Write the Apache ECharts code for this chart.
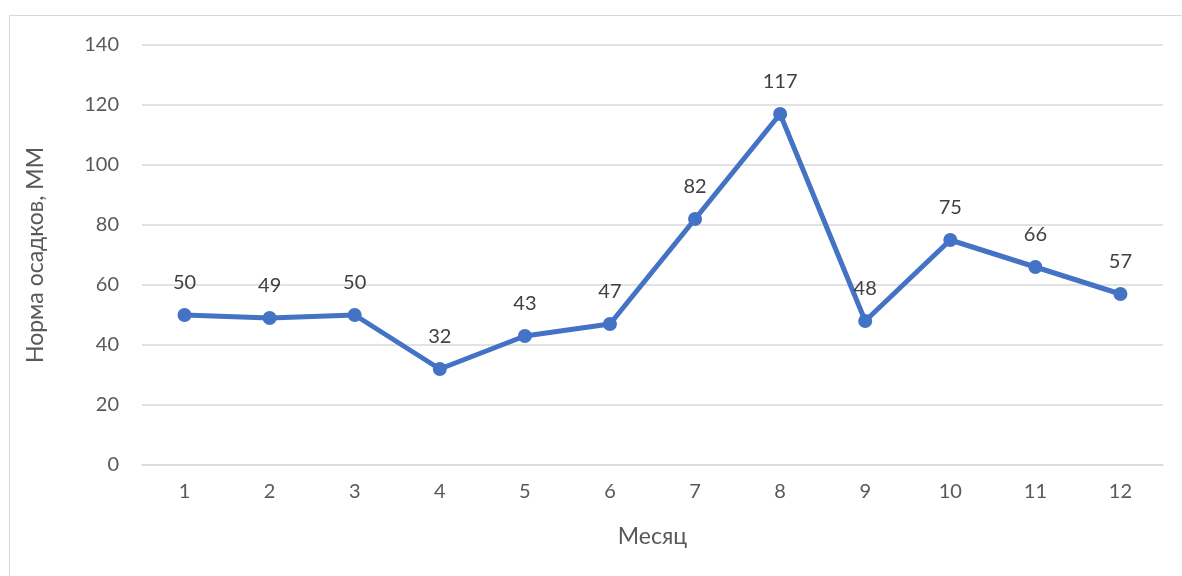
<!DOCTYPE html>
<html>
<head>
<meta charset="utf-8">
<script src="https://cdn.jsdelivr.net/npm/echarts@6/dist/echarts.min.js"></script>
<style>
  html, body { margin: 0; padding: 0; background: #fff; }
  #frame { position: absolute; left: 9px; top: 15px; width: 1200px; height: 600px;
           border: 1px solid #d9d9d9; box-sizing: border-box; }
  #chart { position: absolute; left: 0; top: 0; width: 1182px; height: 576px; }
</style>
</head>
<body>
<div id="frame"></div>
<div id="chart"></div>
<script>
// Monthly precipitation norms, mm
const months = ['1', '2', '3', '4', '5', '6', '7', '8', '9', '10', '11', '12'];
const precipitation = [50, 49, 50, 32, 43, 47, 82, 117, 48, 75, 66, 57];
const yTicks = { min: 0, max: 140, interval: 20 };
const xTitle = 'Месяц';
const yTitle = 'Норма осадков, ММ';

const FONT = 'Lato, "Open Sans", "Noto Sans", sans-serif';
const chart = echarts.init(document.getElementById('chart'), null, { renderer: 'canvas' });

chart.setOption({
  animation: false,
  backgroundColor: 'transparent',
  grid: { left: 142, right: 19, top: 45, bottom: 111, containLabel: false },
  xAxis: {
    type: 'category',
    data: months,
    boundaryGap: true,
    name: xTitle,
    nameLocation: 'middle',
    nameGap: 60,
    nameTextStyle: { fontFamily: FONT, fontSize: 23, color: '#595959' },
    axisLine: { show: true, lineStyle: { color: '#d9d9d9', width: 1.5 } },
    axisTick: { show: false },
    axisLabel: { fontFamily: FONT, fontSize: 20, color: '#595959', margin: 17 }
  },
  yAxis: {
    type: 'value',
    min: yTicks.min,
    max: yTicks.max,
    interval: yTicks.interval,
    name: yTitle,
    nameLocation: 'middle',
    nameGap: 95,
    nameRotate: 90,
    nameTextStyle: { fontFamily: FONT, fontSize: 23, color: '#595959' },
    axisLine: { show: false },
    axisTick: { show: false },
    axisLabel: { fontFamily: FONT, fontSize: 20, color: '#595959', margin: 23 },
    splitLine: { show: true, lineStyle: { color: '#d9d9d9', width: 1.5 } }
  },
  series: [{
    type: 'line',
    data: precipitation,
    symbol: 'circle',
    symbolSize: 14,
    lineStyle: { color: '#4472c4', width: 5 },
    itemStyle: { color: '#4472c4' },
    label: {
      show: true,
      position: 'top',
      distance: 15,
      fontFamily: FONT,
      fontSize: 20,
      color: '#404040'
    }
  }]
});
</script>
</body>
</html>
